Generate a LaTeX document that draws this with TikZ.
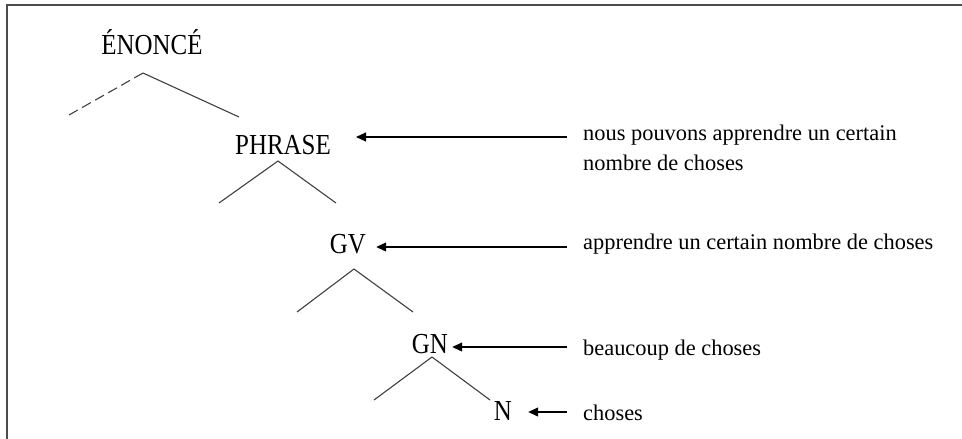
\documentclass[tikz,border=0pt]{standalone}
\usepackage{fontspec}
\setmainfont{Liberation Serif}
\newfontfamily\treefont[FakeStretch=0.86]{Liberation Serif}
\usepackage{tikz}
\usetikzlibrary{positioning,arrows.meta}

\begin{document}
\begin{tikzpicture}[x=1pt,y=-1pt,
    cat/.style={inner sep=0pt,anchor=base,font=\treefont\fontsize{29}{29}\selectfont},
    gloss/.style={inner sep=0pt,anchor=base west,align=left,font=\fontsize{22.4}{30}\selectfont},
    branch/.style={black!75,line width=1.1pt},
    pointer/.style={-{Triangle[length=10pt,width=9pt]},line width=1.1pt}]

  \useasboundingbox (0,0) rectangle (962,439);
  \draw[black!70,line width=1.5pt] (7,439) -- (7,5) -- (962,5);

  %tree
  \node[cat] (enonce) at (152,54) {ÉNONCÉ};
  \node[cat] (phrase) at (283,154) {PHRASE};
  \node[cat] (gv) at (348,253) {GV};
  \node[cat] (gn) at (430,353) {GN};
  \node[cat] (n) at (503,420) {N};

  \coordinate (enonce-top) at (143,73);
  \coordinate (enonce-l) at (69,115);
  \coordinate (enonce-r) at (239,117);
  \coordinate (phrase-top) at (278,161);
  \coordinate (phrase-l) at (219,203);
  \coordinate (phrase-r) at (336,203);
  \coordinate (gv-top) at (354,269);
  \coordinate (gv-l) at (297,312);
  \coordinate (gv-r) at (413,312);
  \coordinate (gn-top) at (432,357);
  \coordinate (gn-l) at (374,400);
  \coordinate (gn-r) at (490,400);

  \draw[branch,dash pattern=on 10pt off 5pt] (enonce-top) -- (enonce-l);
  \draw[branch] (enonce-top) -- (enonce-r);
  \draw[branch] (phrase-l) -- (phrase-top) -- (phrase-r);
  \draw[branch] (gv-l) -- (gv-top) -- (gv-r);
  \draw[branch] (gn-l) -- (gn-top) -- (gn-r);

  %glosses
  \node[gloss] (g1) at (583,170) {nous pouvons apprendre un certain\\nombre de choses};
  \node[gloss] (g2) at (583,249) {apprendre un certain nombre de choses};
  \node[gloss] (g3) at (583,355) {beaucoup de choses};
  \node[gloss] (g4) at (583,420) {choses};

  %g>tree
  \coordinate (s1) at ([xshift=-16pt,yshift=33pt]g1.base west);
  \coordinate (s2) at ([xshift=-16pt,yshift=2pt]g2.base west);
  \coordinate (s3) at ([xshift=-16pt,yshift=8pt]g3.base west);
  \coordinate (s4) at ([xshift=-16pt,yshift=8pt]g4.base west);
  \draw[pointer,shorten >=25pt] (s1) -- (s1 -| phrase.east);
  \draw[pointer,shorten >=10pt] (s2) -- (s2 -| gv.east);
  \draw[pointer,shorten >=4pt] (s3) -- (s3 -| gn.east);
  \draw[pointer,shorten >=16pt] (s4) -- (s4 -| n.east);

\end{tikzpicture}
\end{document}
